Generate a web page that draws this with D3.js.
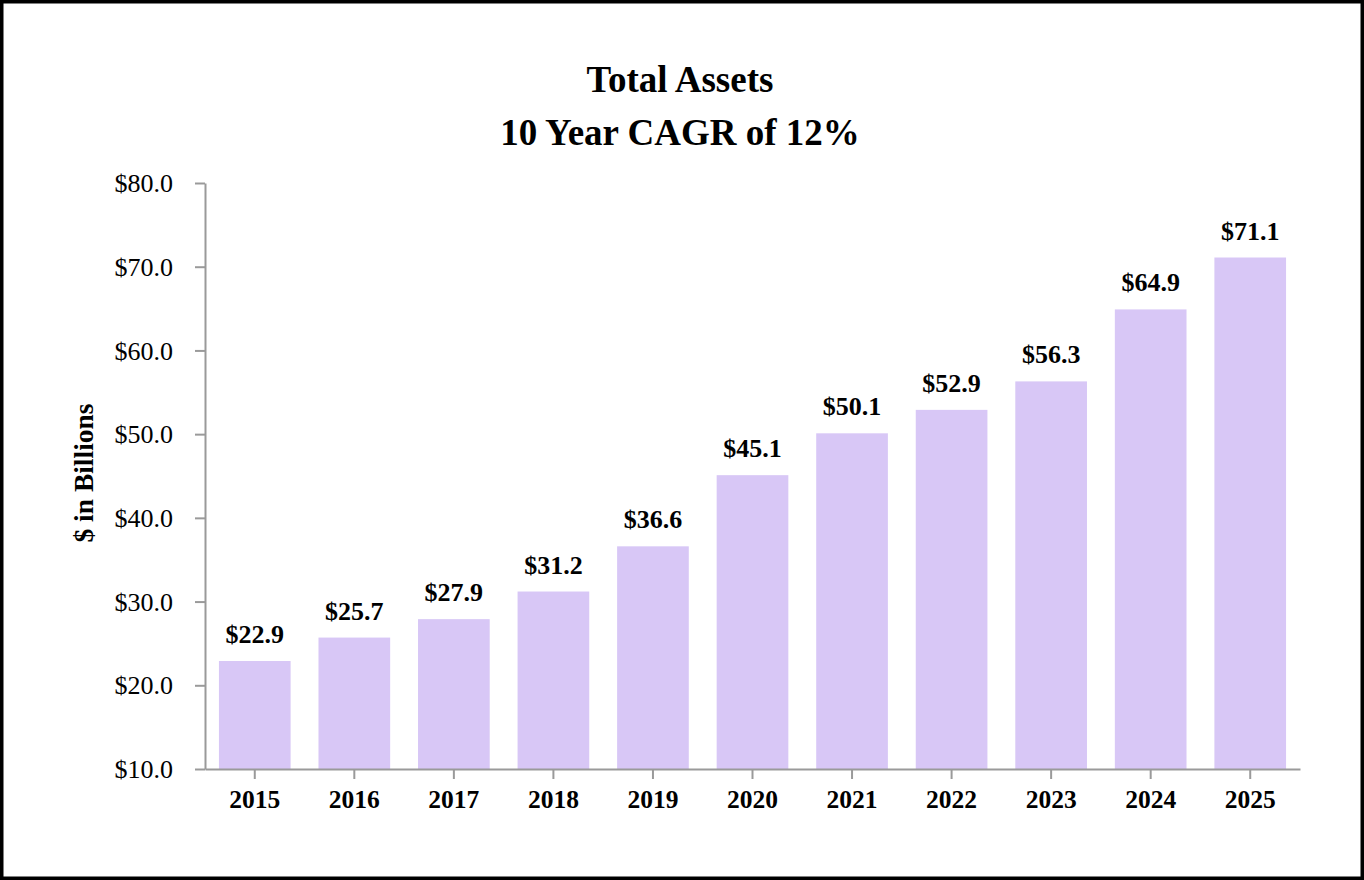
<!DOCTYPE html>
<html>
<head>
<meta charset="utf-8">
<script src="https://cdn.jsdelivr.net/npm/d3@7"></script>
<style>
  body { margin: 0; background: #fff; }
  svg text { font-family: "Liberation Serif", "Times New Roman", serif; fill: #000; }
</style>
</head>
<body>
<svg id="chart" width="1364" height="880"></svg>
<script>
/* data */
const years = ["2015", "2016", "2017", "2018", "2019", "2020", "2021", "2022", "2023", "2024", "2025"];
const assets = [22.9, 25.7, 27.9, 31.2, 36.6, 45.1, 50.1, 52.9, 56.3, 64.9, 71.1];
const yTicks = [10, 20, 30, 40, 50, 60, 70, 80];
const titleLines = ["Total Assets", "10 Year CAGR of 12%"];

const svg = d3.select("#chart");

// ram runt hela bilden
svg.append("rect")
  .attr("x", 1.75).attr("y", 1.75)
  .attr("width", 1360.5).attr("height", 876.5)
  .attr("fill", "#fff")
  .attr("stroke", "#000")
  .attr("stroke-width", 3.5);

const x = d3.scaleBand()
  .domain(years)
  .range([205, 1300])
  .paddingInner(0.28)
  .paddingOuter(0.14);

const y = d3.scaleLinear()
  .domain([10, 80])
  .range([769, 183]);

/* bars */
svg.selectAll("rect.bar")
  .data(years)
  .enter()
  .append("rect")
  .attr("class", "bar")
  .attr("x", d => x(d))
  .attr("y", (d, i) => y(assets[i]))
  .attr("width", x.bandwidth())
  .attr("height", (d, i) => y(10) - y(assets[i]))
  .attr("fill", "#d8c7f6");

/* axes */
const yAxis = svg.append("g")
  .attr("transform", "translate(205,0)")
  .call(d3.axisLeft(y)
    .tickValues(yTicks)
    .tickSize(10)
    .tickSizeOuter(0)
    .tickPadding(22)
    .tickFormat(d => "$" + d.toFixed(1)));

yAxis.selectAll("text")
  .style("font-size", "26px")
  .attr("dy", "0.33em");

const xAxis = svg.append("g")
  .attr("transform", "translate(0,769)")
  .call(d3.axisBottom(x).tickSize(10).tickSizeOuter(0));

xAxis.selectAll("text")
  .attr("y", 38.5)
  .attr("dy", 0)
  .style("font-size", "25.5px")
  .style("font-weight", "bold");

svg.selectAll(".domain, .tick line")
  .attr("stroke", "#9a9a9a")
  .attr("stroke-width", 2);

/* value labels */
svg.selectAll("text.value")
  .data(years)
  .enter()
  .append("text")
  .attr("class", "value")
  .attr("x", d => x(d) + x.bandwidth() / 2)
  .attr("y", (d, i) => y(assets[i]) - 18)
  .attr("text-anchor", "middle")
  .style("font-size", "26px")
  .style("font-weight", "bold")
  .text((d, i) => "$" + assets[i].toFixed(1));

/* title */
svg.selectAll("text.title")
  .data(titleLines)
  .enter()
  .append("text")
  .attr("class", "title")
  .attr("x", 680)
  .attr("y", (d, i) => 92 + i * 53)
  .attr("text-anchor", "middle")
  .style("font-size", "37px")
  .style("font-weight", "bold")
  .text(d => d);

/* y axis label */
svg.append("text")
  .attr("transform", "translate(93,473) rotate(-90)")
  .attr("text-anchor", "middle")
  .style("font-size", "27.5px")
  .style("font-weight", "bold")
  .text("$ in Billions");
</script>
</body>
</html>
